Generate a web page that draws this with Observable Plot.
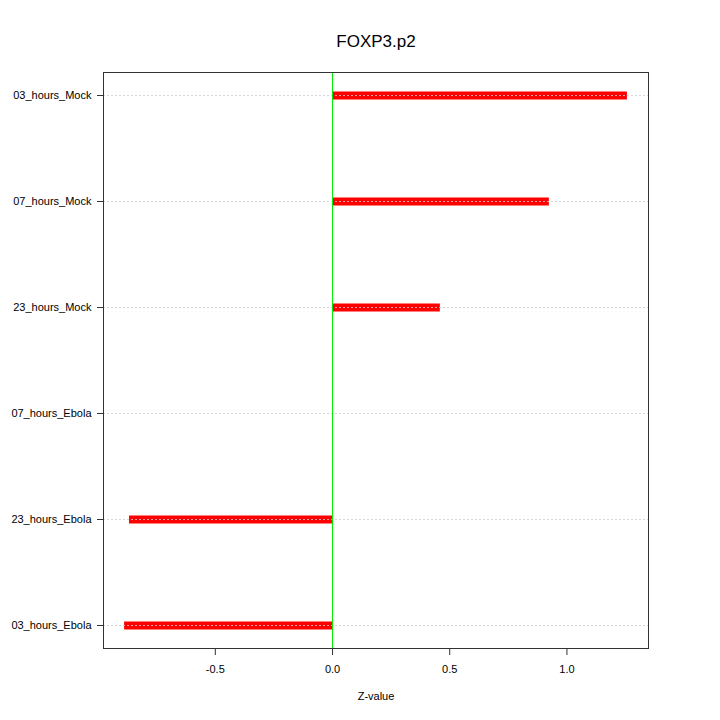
<!DOCTYPE html>
<html>
<head>
<meta charset="utf-8">
<script src="https://cdn.jsdelivr.net/npm/d3@7"></script>
<script src="https://cdn.jsdelivr.net/npm/@observablehq/plot@0.6"></script>
<style>
  html, body { margin: 0; padding: 0; background: #fff; }
  #chart { width: 720px; height: 720px; }
</style>
</head>
<body>
<div id="chart"></div>
<script>
const title = "FOXP3.p2";
const xLabel = "Z-value";
const categories = ["03_hours_Mock", "07_hours_Mock", "23_hours_Mock", "07_hours_Ebola", "23_hours_Ebola", "03_hours_Ebola"];
const values = [1.258, 0.925, 0.46, 0.0, -0.866, -0.887];
const xTicks = [-0.5, 0, 0.5, 1.0];

const data = categories.map((c, i) => ({name: c, value: values[i]}));

const chart = Plot.plot({
  width: 720,
  height: 720,
  marginLeft: 103,
  marginRight: 72,
  marginTop: 72,
  marginBottom: 72,
  style: {fontFamily: "'Liberation Sans', Arial, Helvetica, sans-serif", fontSize: "11px", background: "#fff", color: "#000"},
  x: {domain: [-0.977, 1.348], label: null},
  y: {type: "point", domain: categories, padding: 0.2, label: null},
  marks: [
    Plot.ruleY(data, {y: "name", x1: 0, x2: "value", stroke: "#ff0000", strokeWidth: 8}),
    Plot.ruleY(categories, {y: d => d, stroke: "#cccccc", strokeWidth: 0.8, strokeDasharray: "2,2"}),
    Plot.ruleX([0], {stroke: "#00ee00", strokeWidth: 1}),
    Plot.frame({stroke: "#333", strokeWidth: 1}),
    Plot.axisY({tickSize: 6, tickPadding: 6, fontSize: 11, label: null, stroke: "#333"}),
    Plot.axisX({ticks: xTicks, tickFormat: d => d.toFixed(1), tickSize: 7, tickPadding: 10, fontSize: 11, label: null, stroke: "#333"}),
    Plot.text([title], {frameAnchor: "top", dy: -38, fontSize: 17, text: d => d}),
    Plot.text([xLabel], {frameAnchor: "bottom", dy: 51, fontSize: 11, text: d => d})
  ]
});
document.getElementById("chart").appendChild(chart);
</script>
</body>
</html>
